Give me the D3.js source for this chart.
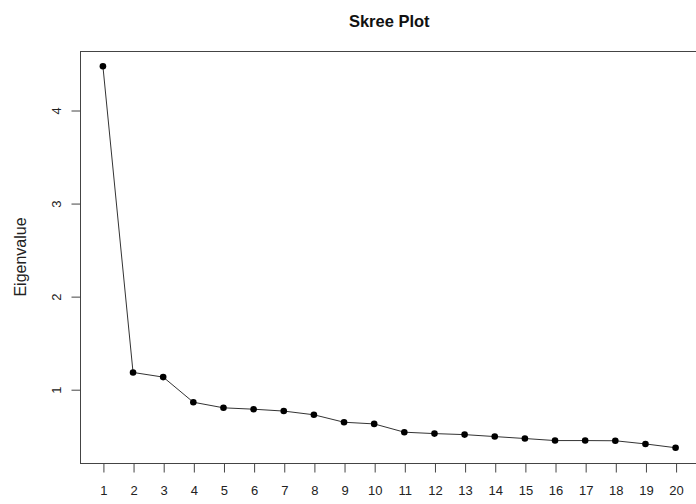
<!DOCTYPE html>
<html>
<head>
<meta charset="utf-8">
<script src="https://cdn.jsdelivr.net/npm/d3@7"></script>
<style>
  html, body { margin: 0; padding: 0; background: #fff; }
  svg { display: block; font-family: "Liberation Sans", Arial, Helvetica, sans-serif; }
</style>
</head>
<body>
<svg id="chart" width="696" height="504"></svg>
<script>
// Principal component numbers and their eigenvalues
const components = [1, 2, 3, 4, 5, 6, 7, 8, 9, 10, 11, 12, 13, 14, 15, 16, 17, 18, 19, 20];
const eigenvalues = [4.47, 1.18, 1.13, 0.86, 0.80, 0.785, 0.765, 0.725, 0.645, 0.627,
                     0.538, 0.523, 0.512, 0.491, 0.470, 0.448, 0.448, 0.446, 0.412, 0.371];
const yTicks = [1, 2, 3, 4];
const xTicks = components;
const title = "Skree Plot";
const yLabel = "Eigenvalue";

const svg = d3.select("#chart");

// plot region (box right edge sits just past the window)
const plotLeft = 80, plotRight = 698.5, plotTop = 51, plotBottom = 463;

// R-style 4% padding around the data range
function padded(ext) {
  const r = ext[1] - ext[0];
  return [ext[0] - 0.04 * r, ext[1] + 0.04 * r];
}

const x = d3.scaleLinear().domain(padded(d3.extent(components))).range([plotLeft, plotRight]);
const y = d3.scaleLinear().domain(padded(d3.extent(eigenvalues))).range([plotBottom, plotTop]);

const axisColor = "#444";

// frame
svg.append("rect")
  .attr("x", plotLeft + 0.5).attr("y", plotTop + 0.5)
  .attr("width", plotRight - plotLeft).attr("height", plotBottom - plotTop)
  .attr("fill", "none").attr("stroke", axisColor).attr("stroke-width", 1);

// x axis
const xAxis = svg.append("g")
  .attr("transform", `translate(0.5,${plotBottom + 0.5})`)
  .call(d3.axisBottom(x).tickValues(xTicks).tickSize(9).tickPadding(13).tickFormat(d3.format("d")));
xAxis.select(".domain").remove();
xAxis.selectAll(".tick line").attr("stroke", axisColor);
xAxis.selectAll(".tick text")
  .attr("font-size", 13).attr("fill", "#222")
  .attr("font-family", "'Liberation Sans', Arial, sans-serif");

// y axis with rotated labels
const yAxis = svg.append("g")
  .attr("transform", `translate(${plotLeft + 0.5},0.5)`)
  .call(d3.axisLeft(y).tickValues(yTicks).tickSize(9).tickFormat(d3.format("d")));
yAxis.select(".domain").remove();
yAxis.selectAll(".tick line").attr("stroke", axisColor);
yAxis.selectAll(".tick text")
  .attr("font-size", 13).attr("fill", "#222")
  .attr("font-family", "'Liberation Sans', Arial, sans-serif")
  .attr("x", null).attr("dy", null)
  .attr("text-anchor", "middle")
  .attr("transform", "translate(-20,0) rotate(-90)");

// connecting line
const pts = components.map((c, i) => [c, eigenvalues[i]]);
svg.append("path")
  .datum(pts)
  .attr("fill", "none")
  .attr("stroke", "#333")
  .attr("stroke-width", 1)
  .attr("d", d3.line().x(d => x(d[0])).y(d => y(d[1])));

// points
svg.append("g").selectAll("circle")
  .data(pts)
  .join("circle")
  .attr("cx", d => x(d[0]))
  .attr("cy", d => y(d[1]))
  .attr("r", 3.3)
  .attr("fill", "#000");

// title
svg.append("text")
  .attr("x", (plotLeft + plotRight) / 2).attr("y", 27)
  .attr("text-anchor", "middle")
  .attr("font-size", 16.5).attr("font-weight", "bold").attr("fill", "#111")
  .text(title);

// y-axis label
svg.append("text")
  .attr("transform", `translate(25.5,${(plotTop + plotBottom) / 2}) rotate(-90)`)
  .attr("text-anchor", "middle")
  .attr("font-size", 16).attr("fill", "#222")
  .text(yLabel);
</script>
</body>
</html>
